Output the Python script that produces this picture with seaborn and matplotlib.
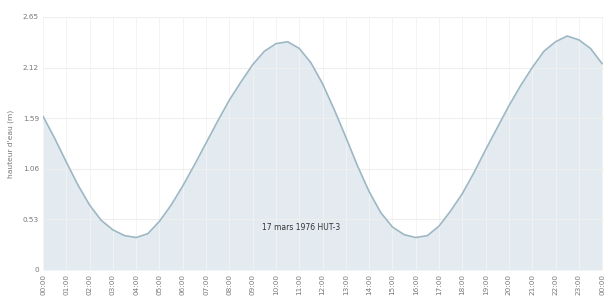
import matplotlib
matplotlib.use("Agg")
import matplotlib.pyplot as plt
import seaborn as sns
import pandas as pd

# time in hours since midnight (half-hour readings)
hours = [0.0, 0.5, 1.0, 1.5, 2.0, 2.5, 3.0, 3.5, 4.0, 4.5,
         5.0, 5.5, 6.0, 6.5, 7.0, 7.5, 8.0, 8.5, 9.0, 9.5,
         10.0, 10.5, 11.0, 11.5, 12.0, 12.5, 13.0, 13.5, 14.0, 14.5,
         15.0, 15.5, 16.0, 16.5, 17.0, 17.5, 18.0, 18.5, 19.0, 19.5,
         20.0, 20.5, 21.0, 21.5, 22.0, 22.5, 23.0, 23.5, 24.0]
# water height (m)
heights = [1.61, 1.38, 1.13, 0.89, 0.68, 0.52, 0.42, 0.36, 0.34, 0.38,
           0.51, 0.68, 0.88, 1.10, 1.33, 1.56, 1.78, 1.97, 2.15, 2.29,
           2.37, 2.39, 2.32, 2.17, 1.95, 1.68, 1.39, 1.09, 0.82, 0.60,
           0.45, 0.37, 0.34, 0.36, 0.46, 0.62, 0.80, 1.02, 1.26, 1.49,
           1.72, 1.93, 2.12, 2.29, 2.39, 2.45, 2.41, 2.32, 2.16]

tick_hours = [0, 1, 2, 3, 4, 5, 6, 7, 8, 9, 10, 11, 12,
              13, 14, 15, 16, 17, 18, 19, 20, 21, 22, 23, 24]
tick_labels = ["00:00", "01:00", "02:00", "03:00", "04:00", "05:00", "06:00",
               "07:00", "08:00", "09:00", "10:00", "11:00", "12:00", "13:00",
               "14:00", "15:00", "16:00", "17:00", "18:00", "19:00", "20:00",
               "21:00", "22:00", "23:00", "00:00"]
y_ticks = [0, 0.53, 1.06, 1.59, 2.12, 2.65]
y_tick_labels = ["0", "0.53", "1.06", "1.59", "2.12", "2.65"]

title_text = "17 mars 1976 HUT-3"
y_label = "hauteur d'eau (m)"

df = pd.DataFrame({"heure": hours, "hauteur": heights})

sns.set_style("white")
plt.rcParams['font.family'] = ['DejaVu Sans']

fig = plt.figure(figsize=(6.04, 3.02), dpi=100)
ax = fig.add_axes([0.0712, 0.106, 0.9288, 0.838])

ax.fill_between(df["heure"], df["hauteur"], 0, color="#e3ebf0", zorder=1, linewidth=0)
sns.lineplot(data=df, x="heure", y="hauteur", ax=ax, color="#9db7c4", linewidth=1.2,
             zorder=3, solid_joinstyle="round")

ax.set_xlim(0, 24.08)
ax.set_ylim(0, 2.65)
ax.set_xticks(tick_hours)
ax.set_xticklabels(tick_labels, rotation=90, fontsize=5.2, color="#777777")
ax.set_yticks(y_ticks)
ax.set_yticklabels(y_tick_labels, fontsize=5.2, color="#777777")
ax.tick_params(axis="both", length=0, pad=3)

ax.grid(axis="y", color="#eeeeee", linewidth=0.8, zorder=2)
ax.grid(axis="x", color="#f3f3f3", linewidth=0.6, zorder=2)
ax.set_axisbelow(False)
for s in ax.spines.values():
    s.set_visible(False)

ax.set_xlabel("")
ax.set_ylabel(y_label, fontsize=5.4, color="#777777", labelpad=6)

ax.text(11.1, 0.45, title_text, fontsize=5.5, color="#333333",
        ha="center", va="center", zorder=4)

fig.savefig("out.png", dpi=100, facecolor="white")
